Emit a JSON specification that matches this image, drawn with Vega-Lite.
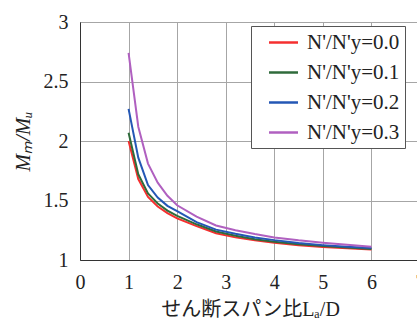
{
  "$schema": "https://vega.github.io/schema/vega-lite/v6.json",
  "width": 340,
  "height": 238,
  "autosize": "none",
  "padding": {"left": 80, "top": 22, "right": 0, "bottom": 65},
  "background": "white",
  "config": {
    "font": "Liberation Serif",
    "view": {"stroke": "#333333", "strokeWidth": 1},
    "axis": {
      "labelFont": "Liberation Serif",
      "labelFontSize": 20,
      "labelColor": "#222222",
      "labelFlush": false,
      "titleFont": "Liberation Serif",
      "titleFontSize": 20,
      "titleFontWeight": "normal",
      "titleColor": "#222222",
      "gridColor": "#a6a6a6",
      "gridWidth": 1,
      "domainColor": "#333333",
      "domainWidth": 1,
      "ticks": false,
      "labelPadding": 12
    }
  },
  "data": {
    "values": [
      {"x": 1, "y": 2.00, "s": "N'/N'y=0.0"},
      {"x": 1.2, "y": 1.68, "s": "N'/N'y=0.0"},
      {"x": 1.4, "y": 1.53, "s": "N'/N'y=0.0"},
      {"x": 1.6, "y": 1.45, "s": "N'/N'y=0.0"},
      {"x": 1.8, "y": 1.394, "s": "N'/N'y=0.0"},
      {"x": 2, "y": 1.35, "s": "N'/N'y=0.0"},
      {"x": 2.4, "y": 1.285, "s": "N'/N'y=0.0"},
      {"x": 2.8, "y": 1.225, "s": "N'/N'y=0.0"},
      {"x": 3.2, "y": 1.19, "s": "N'/N'y=0.0"},
      {"x": 3.6, "y": 1.165, "s": "N'/N'y=0.0"},
      {"x": 4, "y": 1.144, "s": "N'/N'y=0.0"},
      {"x": 4.5, "y": 1.124, "s": "N'/N'y=0.0"},
      {"x": 5, "y": 1.11, "s": "N'/N'y=0.0"},
      {"x": 5.5, "y": 1.098, "s": "N'/N'y=0.0"},
      {"x": 6, "y": 1.088, "s": "N'/N'y=0.0"},
      {"x": 1, "y": 2.07, "s": "N'/N'y=0.1"},
      {"x": 1.2, "y": 1.72, "s": "N'/N'y=0.1"},
      {"x": 1.4, "y": 1.56, "s": "N'/N'y=0.1"},
      {"x": 1.6, "y": 1.475, "s": "N'/N'y=0.1"},
      {"x": 1.8, "y": 1.415, "s": "N'/N'y=0.1"},
      {"x": 2, "y": 1.37, "s": "N'/N'y=0.1"},
      {"x": 2.4, "y": 1.30, "s": "N'/N'y=0.1"},
      {"x": 2.8, "y": 1.24, "s": "N'/N'y=0.1"},
      {"x": 3.2, "y": 1.203, "s": "N'/N'y=0.1"},
      {"x": 3.6, "y": 1.175, "s": "N'/N'y=0.1"},
      {"x": 4, "y": 1.153, "s": "N'/N'y=0.1"},
      {"x": 4.5, "y": 1.132, "s": "N'/N'y=0.1"},
      {"x": 5, "y": 1.117, "s": "N'/N'y=0.1"},
      {"x": 5.5, "y": 1.104, "s": "N'/N'y=0.1"},
      {"x": 6, "y": 1.093, "s": "N'/N'y=0.1"},
      {"x": 1, "y": 2.27, "s": "N'/N'y=0.2"},
      {"x": 1.2, "y": 1.86, "s": "N'/N'y=0.2"},
      {"x": 1.4, "y": 1.63, "s": "N'/N'y=0.2"},
      {"x": 1.6, "y": 1.525, "s": "N'/N'y=0.2"},
      {"x": 1.8, "y": 1.455, "s": "N'/N'y=0.2"},
      {"x": 2, "y": 1.41, "s": "N'/N'y=0.2"},
      {"x": 2.4, "y": 1.318, "s": "N'/N'y=0.2"},
      {"x": 2.8, "y": 1.255, "s": "N'/N'y=0.2"},
      {"x": 3.2, "y": 1.22, "s": "N'/N'y=0.2"},
      {"x": 3.6, "y": 1.19, "s": "N'/N'y=0.2"},
      {"x": 4, "y": 1.167, "s": "N'/N'y=0.2"},
      {"x": 4.5, "y": 1.143, "s": "N'/N'y=0.2"},
      {"x": 5, "y": 1.125, "s": "N'/N'y=0.2"},
      {"x": 5.5, "y": 1.111, "s": "N'/N'y=0.2"},
      {"x": 6, "y": 1.10, "s": "N'/N'y=0.2"},
      {"x": 1, "y": 2.74, "s": "N'/N'y=0.3"},
      {"x": 1.2, "y": 2.12, "s": "N'/N'y=0.3"},
      {"x": 1.4, "y": 1.81, "s": "N'/N'y=0.3"},
      {"x": 1.6, "y": 1.65, "s": "N'/N'y=0.3"},
      {"x": 1.8, "y": 1.54, "s": "N'/N'y=0.3"},
      {"x": 2, "y": 1.46, "s": "N'/N'y=0.3"},
      {"x": 2.4, "y": 1.364, "s": "N'/N'y=0.3"},
      {"x": 2.8, "y": 1.29, "s": "N'/N'y=0.3"},
      {"x": 3.2, "y": 1.25, "s": "N'/N'y=0.3"},
      {"x": 3.6, "y": 1.218, "s": "N'/N'y=0.3"},
      {"x": 4, "y": 1.19, "s": "N'/N'y=0.3"},
      {"x": 4.5, "y": 1.165, "s": "N'/N'y=0.3"},
      {"x": 5, "y": 1.145, "s": "N'/N'y=0.3"},
      {"x": 5.5, "y": 1.128, "s": "N'/N'y=0.3"},
      {"x": 6, "y": 1.111, "s": "N'/N'y=0.3"}
    ]
  },
  "mark": {"type": "line", "strokeWidth": 2},
  "encoding": {
    "x": {
      "field": "x",
      "type": "quantitative",
      "scale": {"domain": [0, 7], "nice": false},
      "axis": {"values": [0, 1, 2, 3, 4, 5, 6, 7], "format": "~g", "title": "せん断スパン比Lₐ/D", "titleFont": "Liberation Serif, Noto Sans CJK JP", "titlePadding": 7}
    },
    "y": {
      "field": "y",
      "type": "quantitative",
      "scale": {"domain": [1, 3], "nice": false, "zero": false},
      "axis": {"values": [1, 1.5, 2, 2.5, 3], "format": "~g", "title": "Mₘ/Mᵤ", "titleFontStyle": "italic", "titleFont": "Liberation Serif", "titleFontSize": 21, "titlePadding": 10}
    },
    "color": {
      "field": "s",
      "type": "nominal",
      "scale": {
        "domain": ["N'/N'y=0.0", "N'/N'y=0.1", "N'/N'y=0.2", "N'/N'y=0.3"],
        "range": ["#f52f2f", "#2f6b3b", "#2457b5", "#b060c0"]
      },
      "legend": {
        "title": null,
        "orient": "none",
        "legendX": 171,
        "legendY": 4,
        "symbolType": "M-1.45,0L1.45,0",
        "symbolSize": 400,
        "symbolStrokeWidth": 2.5,
        "symbolOffset": 16,
        "labelOffset": 12,
        "labelFont": "Liberation Serif",
        "labelFontSize": 21,
        "labelColor": "#222222",
        "rowPadding": 8,
        "padding": 5,
        "strokeColor": "#555555",
        "fillColor": "white"
      }
    }
  }
}
